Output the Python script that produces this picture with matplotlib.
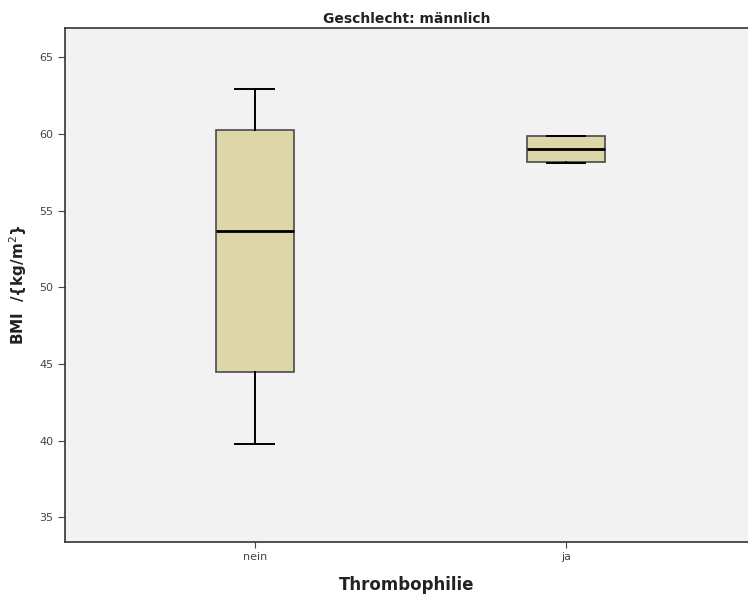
import matplotlib.pyplot as plt

groups = ['nein', 'ja']
whislo = [39.75, 58.1]
q1 = [44.45, 58.2]
med = [53.7, 59.05]
q3 = [60.25, 59.9]
whishi = [62.95, 59.9]
yticks = [35, 40, 45, 50, 55, 60, 65]

stats = []
for i, g in enumerate(groups):
    stats.append({'label': g, 'whislo': whislo[i], 'q1': q1[i], 'med': med[i],
                  'q3': q3[i], 'whishi': whishi[i], 'fliers': []})

fig = plt.figure(figsize=(7.48, 6), dpi=100)
ax = fig.add_axes([0.087, 0.097, 0.913, 0.856])
ax.set_facecolor('#f2f2f2')

ax.bxp(stats, positions=[0, 1], widths=0.25, patch_artist=True, showfliers=False,
       boxprops=dict(facecolor='#dcd6a8', edgecolor='#4a4a4a', linewidth=1.2),
       medianprops=dict(color='black', linewidth=2),
       whiskerprops=dict(color='black', linewidth=1.4),
       capprops=dict(color='black', linewidth=1.4),
       capwidths=0.125)

ax.set_xlim(-0.61, 1.585)
ax.set_ylim(33.4, 66.9)
ax.set_yticks(yticks)
ax.set_xticks([0, 1])
ax.set_xticklabels(groups)
ax.tick_params(axis='both', labelsize=8, colors='#444444', direction='out', length=5)
ax.tick_params(axis='x', length=4)

for s in ['left', 'bottom', 'top']:
    ax.spines[s].set_color('#333333')
    ax.spines[s].set_linewidth(1.2)
ax.spines['right'].set_visible(False)

ax.set_title('Geschlecht: männlich', fontsize=10, fontweight='bold', color='#222222', pad=4)
ax.set_ylabel('BMI  /{kg/m$^2$}', fontsize=11, fontweight='bold', color='#222222', labelpad=7)
ax.set_xlabel('Thrombophilie', fontsize=12, fontweight='bold', color='#222222', labelpad=10)

fig.savefig('out.png', dpi=100)
